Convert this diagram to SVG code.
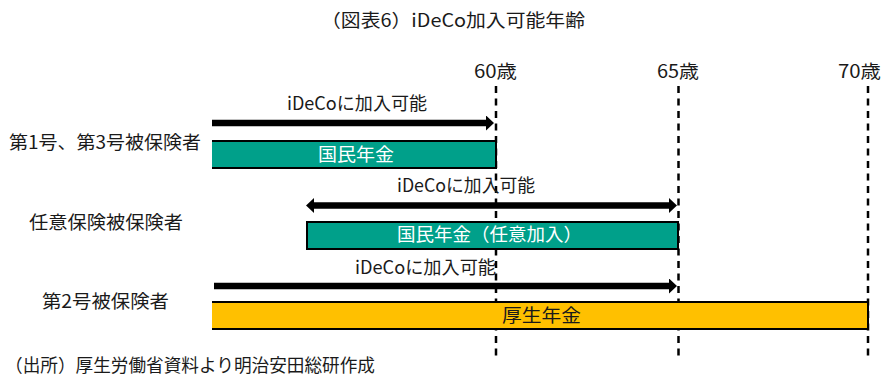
<svg xmlns="http://www.w3.org/2000/svg" width="881" height="378" viewBox="0 0 881 378">
<style>
text{font-family:"Noto Sans CJK JP","Noto Sans",sans-serif;font-size:18px;fill:#1a1a1a}
.w{fill:#ffffff}
.teal{fill:#00A08A}
.yel{fill:#FFC000}
.edge{fill:none;stroke:#000;stroke-width:2}
.arr{stroke:#000;stroke-width:6.5;fill:none}
.dash{stroke:#000;stroke-width:2.5;stroke-dasharray:7 5.5;fill:none}
</style>
<defs>
<marker id="head" markerUnits="userSpaceOnUse" markerWidth="8" markerHeight="15" viewBox="0 0 8 15" refX="0" refY="7.5" orient="auto-start-reverse">
<path d="M0,0 L8,7.5 L0,15 z" fill="#000"/>
</marker>
</defs>
<rect width="881" height="378" fill="#ffffff"/>
<text id="title" x="321" y="27" textLength="264" lengthAdjust="spacingAndGlyphs">（図表6）iDeCo加入可能年齢</text>
<g id="age60"><text x="474" y="78" textLength="43" lengthAdjust="spacingAndGlyphs">60歳</text></g>
<g id="age65"><text x="657" y="78" textLength="42" lengthAdjust="spacingAndGlyphs">65歳</text></g>
<g id="age70"><text x="838" y="78" textLength="43" lengthAdjust="spacingAndGlyphs">70歳</text></g>
<g id="connectors">
<line class="dash" x1="496" y1="86" x2="496" y2="357"/>
<line class="dash" x1="678.5" y1="86" x2="678.5" y2="357"/>
<line class="dash" x1="868" y1="86" x2="868" y2="357"/>
<line class="arr" x1="212" y1="123" x2="486" y2="123" marker-end="url(#head)"/>
<line class="arr" x1="314" y1="205.5" x2="669" y2="205.5" marker-start="url(#head)" marker-end="url(#head)"/>
<line class="arr" x1="214" y1="286" x2="669" y2="286" marker-end="url(#head)"/>
</g>
<g id="label-ideco1"><text x="287" y="110" textLength="140" lengthAdjust="spacingAndGlyphs">iDeCoに加入可能</text></g>
<g id="label-ideco2"><text x="397" y="192" textLength="138" lengthAdjust="spacingAndGlyphs">iDeCoに加入可能</text></g>
<g id="label-ideco3"><text x="355" y="274" textLength="141" lengthAdjust="spacingAndGlyphs">iDeCoに加入可能</text></g>
<g id="row1-label"><text x="9" y="149" textLength="192" lengthAdjust="spacingAndGlyphs">第1号、第3号被保険者</text></g>
<g id="row2-label"><text x="29" y="229" textLength="154" lengthAdjust="spacingAndGlyphs">任意保険被保険者</text></g>
<g id="row3-label"><text x="42" y="308" textLength="127" lengthAdjust="spacingAndGlyphs">第2号被保険者</text></g>
<g id="bar-kokumin">
<rect class="teal" x="212" y="141" width="284" height="27"/>
<path class="edge" d="M212,141 H496 V168 H212"/>
<text class="w" x="318" y="161" textLength="76" lengthAdjust="spacingAndGlyphs">国民年金</text>
</g>
<g id="bar-nin-i">
<rect class="teal" x="307" y="222" width="371" height="27"/>
<rect class="edge" x="307" y="222" width="371" height="27"/>
<text class="w" x="397" y="241" textLength="185" lengthAdjust="spacingAndGlyphs">国民年金（任意加入）</text>
</g>
<g id="bar-kousei">
<rect class="yel" x="212" y="302" width="656" height="27"/>
<path class="edge" d="M212,302 H868 V329 H212"/>
<text x="502" y="322" textLength="79" lengthAdjust="spacingAndGlyphs">厚生年金</text>
</g>
<text id="source" x="5" y="372" textLength="370" lengthAdjust="spacingAndGlyphs">（出所）厚生労働省資料より明治安田総研作成</text>
</svg>
